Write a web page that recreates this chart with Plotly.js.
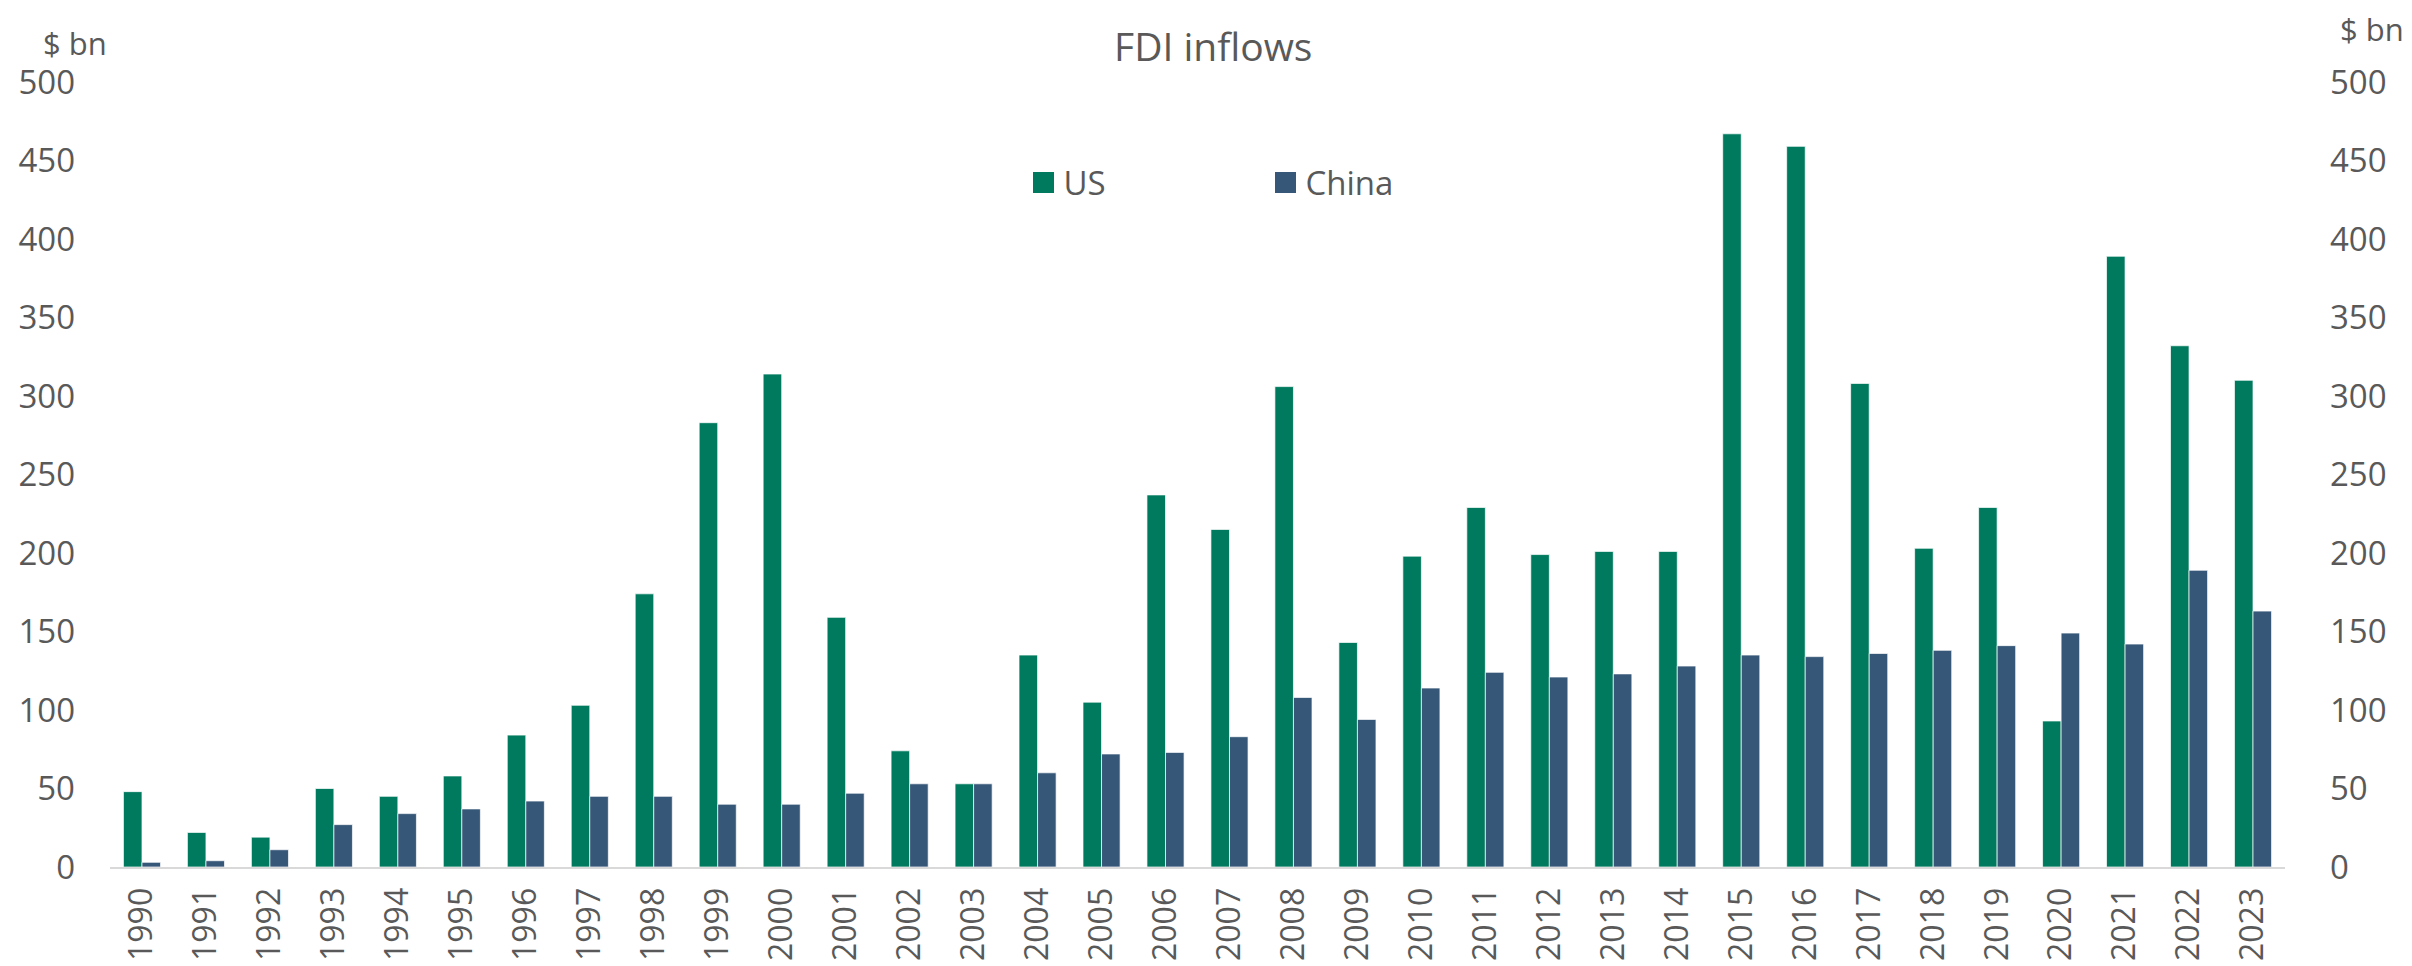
<!DOCTYPE html>
<html>
<head>
<meta charset="utf-8">
<script src="https://cdn.plot.ly/plotly-3.0.1.min.js"></script>
<style>html,body{margin:0;padding:0;background:#fff;}#chart{width:2412px;height:966px;}</style>
</head>
<body>
<div id="chart"></div>
<script>
const years = ['1990','1991','1992','1993','1994','1995','1996','1997','1998','1999','2000','2001','2002','2003','2004','2005','2006','2007','2008','2009','2010','2011','2012','2013','2014','2015','2016','2017','2018','2019','2020','2021','2022','2023'];
const usValues = [48, 22, 19, 50, 45, 58, 84, 103, 174, 283, 314, 159, 74, 53, 135, 105, 237, 215, 306, 143, 198, 229, 199, 201, 201, 467, 459, 308, 203, 229, 93, 389, 332, 310];
const chinaValues = [3, 4, 11, 27, 34, 37, 42, 45, 45, 40, 40, 47, 53, 53, 60, 72, 73, 83, 108, 94, 114, 124, 121, 123, 128, 135, 134, 136, 138, 141, 149, 142, 189, 163];
const yTicks = [0, 50, 100, 150, 200, 250, 300, 350, 400, 450, 500];
const seriesNames = ['US', 'China'];
const titleText = 'FDI inflows';
const unitText = '$ bn';

const grey = '#595959';
const fontFam = '"Open Sans", "Noto Sans", sans-serif';

const traces = [
  {type:'bar', name: seriesNames[0], x: years, y: usValues,
   marker:{color:'#007A5E', line:{color:'rgba(255,255,255,0.7)', width:1}}},
  {type:'bar', name: seriesNames[1], x: years, y: chinaValues,
   marker:{color:'#365778', line:{color:'rgba(255,255,255,0.7)', width:1}}},
  // invisible helper trace so the secondary (right) value axis is drawn
  {type:'scatter', mode:'none', x: years, y: usValues, yaxis:'y2', showlegend:false, hoverinfo:'skip'}
];

const layout = {
  width: 2412, height: 966,
  margin: {l:110, r:127, t:81.5, b:99, pad:0},
  paper_bgcolor:'#ffffff', plot_bgcolor:'#ffffff',
  font: {family: fontFam, color: grey, size: 33},
  barmode: 'group', bargap: 0.42, bargroupgap: 0,
  title: {text: titleText, x: 0.503, xref:'container', xanchor:'center', y: 1 - 47/966, yref:'container', yanchor:'middle',
          font:{family: fontFam, size: 39, color: grey}},
  showlegend: true,
  legend: {orientation:'h', x: 0.42, xanchor:'left', y: 0.872, yanchor:'middle',
           font:{family: fontFam, size: 33, color: grey}, entrywidth: 197, entrywidthmode:'pixels',
           bgcolor:'rgba(0,0,0,0)', borderwidth:0},
  xaxis: {type:'category', showgrid:false, zeroline:false, showline:true, linecolor:'#d9d9d9', linewidth:2,
          ticks:'', tickangle:-90, tickfont:{family: fontFam, size:32, color: grey}, ticklabelstandoff: 6},
  yaxis: {range:[0,500], tickvals: yTicks, showgrid:false, zeroline:false, showline:false, ticks:'',
          tickfont:{family: fontFam, size:33, color: grey}, ticklabelstandoff: 34},
  yaxis2: {range:[0,500], tickvals: yTicks, overlaying:'y', side:'right', showgrid:false, zeroline:false, showline:false, ticks:'',
          tickfont:{family: fontFam, size:33, color: grey}, ticklabelstandoff: 44},
  annotations: [
    {text: unitText, xref:'paper', yref:'paper', x: (75-110)/2175, xanchor:'center', y: (867-42)/785.5, yanchor:'middle', showarrow:false,
     font:{family: fontFam, size:31, color: grey}},
    {text: unitText, xref:'paper', yref:'paper', x: (2372-110)/2175, xanchor:'center', y: (867-28)/785.5, yanchor:'middle', showarrow:false,
     font:{family: fontFam, size:31, color: grey}}
  ]
};

Plotly.newPlot('chart', traces, layout, {displayModeBar:false, responsive:false}).then(function(){
  // enlarge the legend swatches to match the reference's larger squares
  document.querySelectorAll('.legend .legendpoints path.legendundefined, .legend .legendpoints .legendbar path, .legend .legendpoints path').forEach(function(p){
    p.setAttribute('d', 'M10.5,10.5H-10.5V-10.5H10.5Z');
    p.style.strokeWidth = '0px';
  });
});
</script>
</body>
</html>
